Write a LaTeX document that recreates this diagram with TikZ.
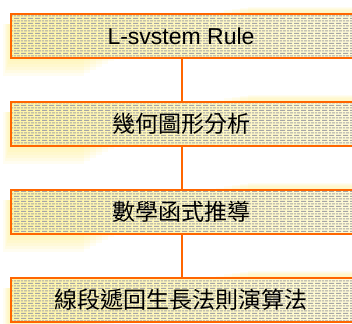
\documentclass[tikz,border=0pt]{standalone}
\usepackage{fontspec}
\setmainfont{Liberation Sans}
\newfontfamily\cjk{Noto Sans CJK TC}
\usetikzlibrary{patterns.meta}
\tikzdeclarepattern{
  name=hdash,
  type=uncolored,
  bounding box={(0pt,0pt) and (7pt,5.4pt)},
  tile size={(7pt,5.4pt)},
  code={
    \pgfsetlinewidth{1.1pt}
    \pgfpathmoveto{\pgfpoint{0pt}{0.7pt}}\pgfpathlineto{\pgfpoint{5.8pt}{0.7pt}}
    \pgfpathmoveto{\pgfpoint{3.5pt}{3.4pt}}\pgfpathlineto{\pgfpoint{7pt}{3.4pt}}
    \pgfpathmoveto{\pgfpoint{0pt}{3.4pt}}\pgfpathlineto{\pgfpoint{2.3pt}{3.4pt}}
    \pgfusepath{stroke}
  }
}
\definecolor{borderorange}{RGB}{255,102,0}
\definecolor{glowyellow}{RGB}{255,240,120}
\tikzset{
  stepbox/.style={rectangle, draw=borderorange, line width=2pt,
    preaction={left color=glowyellow!65!white, right color=glowyellow!30!white},
    pattern={hdash}, pattern color=gray!70,
    minimum width=342pt, minimum height=44pt, inner sep=0pt, outer sep=0pt,
    anchor=north west, font=\fontsize{23}{26}\selectfont},
  conn/.style={draw=borderorange, line width=1.5pt},
  glow/.style={fill=glowyellow, fill opacity=0.1, draw=none}
}
\begin{document}
\begin{tikzpicture}[x=1pt,y=1pt]
\useasboundingbox (0,0) rectangle (352,323);
\fill[white] (0,0) rectangle (352,323);
% soft glow behind the boxes
\foreach \t in {309,221,133,45}{
  \foreach \i in {1,...,6}{
    \fill[glow] ({11-1.3*\i},{\t-44-3*\i}) rectangle ({120-6*\i},{\t-10});
    \fill[glow] ({200+8*\i},{\t-10}) rectangle (352,{\t+1.2*\i});
  }
}
\node[stepbox] (b1) at (11,309) {\hspace*{-2pt}L-svstem Rule};
\node[stepbox] (b2) at (11,221) {\hspace*{-2pt}\cjk 幾何圖形分析};
\node[stepbox] (b3) at (11,133) {\hspace*{-2pt}\cjk 數學函式推導};
\node[stepbox] (b4) at (11,45) {\hspace*{-2pt}\cjk 線段遞回生長法則演算法};
\draw[conn] (b1.south) -- (b2.north);
\draw[conn] (b2.south) -- (b3.north);
\draw[conn] (b3.south) -- (b4.north);
\end{tikzpicture}
\end{document}
